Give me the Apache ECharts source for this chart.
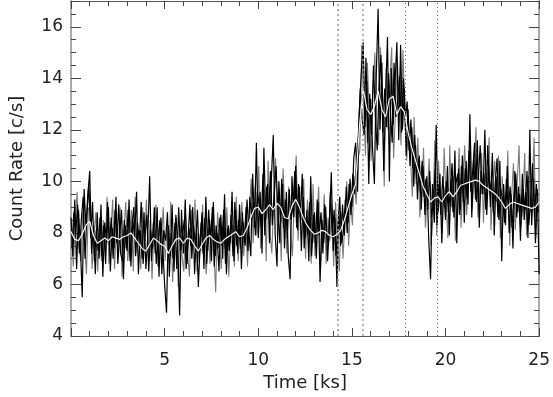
<!DOCTYPE html>
<html>
<head>
<meta charset="utf-8">
<script src="https://cdn.jsdelivr.net/npm/echarts@6/dist/echarts.min.js"></script>
<style>html,body{margin:0;padding:0;background:#fff}#c{width:553px;height:397px}</style>
</head>
<body>
<div id="c"></div>
<script>
// Light curve A, 0.1 ks bins starting at t = 0
var rateStep = 0.1;
var rateA = [
  8.6, 7.1, 9.3, 6.6, 8.9, 7.5, 5.5, 9.7, 8.2, 9.5,
  10.4, 7.2, 8.3, 6.4, 8.8, 7.0, 9.1, 6.3, 8.4, 7.6,
  9.0, 6.5, 8.2, 7.4, 9.4, 6.8, 7.9, 8.9, 6.2, 8.3,
  7.3, 9.3, 6.7, 8.5, 7.8, 9.6, 6.4, 8.1, 7.0, 8.8,
  6.6, 7.9, 10.2, 6.9, 8.4, 7.2, 9.0, 6.3, 8.6, 7.4,
  6.0, 4.9, 8.3, 7.1, 9.1, 6.5, 8.7, 7.6, 4.8, 8.9,
  7.2, 9.3, 6.8, 8.2, 7.5, 9.0, 6.4, 8.1, 5.9, 7.7,
  8.8, 6.6, 9.4, 7.3, 8.5, 6.9, 9.2, 7.1, 8.0, 6.5,
  8.7, 7.0, 9.5, 6.4, 8.3, 7.6, 9.6, 6.9, 8.9, 7.2,
  9.1, 6.6, 8.4, 7.5, 9.3, 8.0, 7.1, 10.3, 8.2, 11.5,
  7.8, 9.6, 7.2, 11.3, 8.5, 9.9, 7.6, 10.1, 11.8, 8.0,
  6.7, 10.0, 8.4, 9.9, 7.4, 9.6, 7.1, 6.2, 10.2, 8.6,
  10.6, 8.1, 9.8, 7.3, 9.4, 7.8, 8.9, 6.9, 10.2, 7.6,
  8.8, 7.0, 9.2, 6.1, 8.5, 7.6, 9.0, 6.9, 8.4, 10.35,
  7.3, 8.6, 5.9, 8.9, 7.5, 9.1, 7.9, 9.8, 8.4, 10.1,
  9.0, 10.9, 11.5, 9.6, 12.8, 14.2, 15.4, 12.1, 13.9, 9.9,
  13.2, 11.3, 9.9, 14.1, 16.7, 12.0, 14.6, 10.4, 13.3, 15.6,
  10.0, 14.4, 12.2, 13.8, 15.4, 11.6, 15.3, 12.0, 13.6, 11.0,
  12.8, 10.6, 12.1, 9.8, 11.4, 9.3, 11.0, 8.9, 10.6, 8.7,
  10.2, 7.8, 6.2, 9.9, 8.4, 12.2, 8.8, 10.3, 7.6, 9.8,
  8.5, 10.6, 7.9, 10.1, 8.8, 11.2, 7.6, 10.5, 8.9, 11.0,
  8.4, 10.8, 9.1, 12.6, 8.6, 10.9, 9.3, 11.6, 8.2, 10.4,
  9.5, 12.0, 8.7, 10.6, 9.0, 11.1, 7.9, 10.2, 8.6, 10.8,
  6.9, 9.9, 8.3, 10.6, 8.0, 9.5, 7.4, 10.4, 8.6, 9.8,
  7.7, 10.3, 8.5, 9.6, 7.8, 12.0, 8.3, 10.1, 7.6, 9.7,
  6.4
];
// Light curve B, 0.1 ks bins starting at t = 0.05
var rateB = [
  7.4, 8.8, 7.9, 9.1, 7.2, 8.5, 9.4, 7.0, 8.7, 9.9,
  7.8, 9.2, 6.9, 8.1, 7.3, 8.6, 7.1, 8.3, 6.8, 9.2,
  7.5, 8.6, 7.0, 8.9, 7.6, 9.1, 7.2, 6.9, 8.5, 7.4,
  8.9, 6.9, 8.2, 9.0, 7.1, 8.4, 7.7, 9.2, 6.8, 7.9,
  8.7, 6.5, 8.1, 7.4, 9.0, 6.8, 7.7, 8.5, 6.4, 8.1,
  7.7, 8.8, 6.3, 8.0, 7.0, 8.4, 6.6, 9.0, 7.3, 7.9,
  8.5, 6.6, 7.8, 9.1, 7.0, 8.3, 7.4, 8.9, 6.9, 8.4,
  7.2, 8.6, 6.8, 8.9, 7.7, 9.0, 6.7, 8.3, 7.4, 8.6,
  7.5, 8.9, 6.8, 8.2, 7.3, 8.7, 7.1, 9.2, 7.5, 8.5,
  7.4, 8.8, 7.6, 9.0, 7.3, 9.4, 8.5, 9.2, 7.9, 9.6,
  9.1, 8.2, 10.3, 7.9, 9.8, 8.6, 10.4, 8.3, 9.5, 10.6,
  8.8, 7.6, 10.1, 8.2, 9.3, 7.8, 9.7, 8.5, 9.0, 10.4,
  8.2, 9.9, 8.6, 10.3, 7.4, 8.6, 7.9, 9.2, 7.1, 8.7,
  7.6, 9.3, 7.9, 8.8, 7.2, 9.1, 8.0, 7.5, 9.6, 7.8,
  8.9, 7.1, 8.3, 9.4, 7.6, 8.1, 9.3, 8.0, 9.9, 8.7,
  10.3, 9.5, 10.8, 11.9, 13.6, 12.4, 11.8, 14.8, 11.5, 13.4,
  11.8, 14.5, 12.6, 11.2, 13.7, 14.9, 11.9, 13.6, 12.1, 14.2,
  12.8, 11.5, 14.6, 12.5, 13.2, 14.1, 11.9, 14.0, 12.4, 13.1,
  11.2, 12.4, 10.5, 11.8, 10.1, 10.9, 9.6, 10.8, 9.4, 10.1,
  8.9, 10.4, 8.6, 9.2, 10.5, 8.3, 9.9, 8.7, 10.2, 9.0,
  10.0, 8.8, 9.6, 10.7, 8.6, 9.9, 10.3, 8.7, 10.6, 9.2,
  10.5, 9.3, 11.2, 9.6, 10.4, 11.5, 9.2, 10.1, 11.4, 9.5,
  10.3, 8.9, 11.4, 9.6, 10.0, 8.8, 9.9, 10.9, 8.5, 9.7,
  9.3, 8.4, 10.1, 8.9, 9.8, 8.2, 9.4, 10.3, 8.8, 9.5,
  8.6, 9.7, 8.9, 10.4, 8.3, 9.4, 10.7, 8.6, 9.9, 8.8
];
// Light curve C (grey), 0.1 ks bins starting at t = 0.025
var rateC = [
  7.9, 6.7, 8.4, 9.6, 7.5, 6.9, 8.8, 7.6, 6.4, 8.9,
  9.1, 6.6, 7.9, 8.8, 6.5, 8.2, 6.9, 8.5, 7.3, 9.4,
  6.8, 8.0, 9.3, 6.6, 8.4, 7.3, 9.0, 6.3, 8.1, 9.2,
  6.9, 7.7, 8.9, 6.5, 9.4, 7.2, 8.0, 6.6, 9.0, 7.5,
  9.3, 7.1, 8.5, 6.2, 7.9, 9.1, 6.7, 8.2, 7.6, 9.0,
  6.9, 8.2, 7.0, 9.2, 6.1, 7.8, 8.6, 5.9, 8.3, 7.1,
  6.5, 8.7, 7.2, 6.3, 8.9, 7.6, 9.3, 6.5, 8.0, 7.3,
  9.1, 7.3, 6.4, 8.2, 6.8, 8.5, 7.4, 5.7, 8.8, 7.8,
  6.6, 8.1, 7.4, 9.0, 6.3, 7.9, 8.3, 6.7, 9.4, 6.9,
  8.3, 9.2, 7.1, 8.6, 6.7, 8.9, 10.1, 7.6, 9.8, 7.9,
  10.6, 7.4, 8.8, 9.7, 6.9, 10.8, 8.0, 7.2, 9.4, 10.9,
  7.9, 9.3, 6.9, 10.5, 8.6, 7.2, 9.8, 8.0, 7.1, 9.5,
  11.0, 7.7, 9.1, 8.5, 10.1, 7.0, 9.3, 8.2, 6.8, 9.9,
  7.1, 8.3, 9.8, 6.6, 8.0, 9.5, 6.8, 8.6, 7.7, 9.1,
  6.7, 9.2, 7.6, 6.5, 8.8, 7.0, 8.5, 10.0, 7.5, 9.3,
  8.3, 10.2, 9.1, 10.9, 11.2, 15.3, 13.0, 11.0, 14.6, 12.6,
  10.8, 13.5, 15.0, 12.3, 11.4, 15.2, 12.8, 9.8, 14.4, 12.0,
  13.9, 15.2, 10.9, 12.7, 14.8, 13.0, 11.4, 15.1, 12.6, 10.8,
  12.3, 11.0, 9.4, 12.5, 9.9, 11.7, 8.6, 9.5, 11.3, 8.2,
  9.6, 10.9, 7.5, 8.6, 11.6, 7.9, 10.8, 9.1, 8.0, 11.3,
  9.3, 7.8, 11.4, 9.0, 10.2, 7.7, 9.5, 11.3, 8.2, 10.0,
  11.4, 8.7, 9.9, 11.8, 8.9, 10.3, 12.1, 8.6, 9.7, 11.1,
  8.4, 10.6, 9.4, 11.7, 8.1, 9.8, 10.8, 9.2, 11.0, 7.8,
  10.2, 8.7, 9.0, 11.2, 7.5, 9.4, 10.7, 8.1, 9.9, 11.4,
  8.2, 9.0, 11.1, 7.9, 10.2, 8.8, 9.6, 11.7, 7.8, 9.5
];
// Smoothed curve, 0.2 ks steps starting at t = 0
var smoothStep = 0.2;
var smooth = [
  8.05, 7.75, 7.7, 7.95, 8.3, 8.45, 7.9, 7.6, 7.7, 7.8,
  7.7, 7.85, 7.8, 7.75, 7.85, 7.9, 8.0, 7.8, 7.6, 7.4,
  7.3, 7.55, 7.8, 7.7, 7.55, 7.5, 7.2, 7.5, 7.75, 7.8,
  7.6, 7.8, 7.75, 7.5, 7.3, 7.55, 7.8, 7.9, 7.75, 7.65,
  7.6, 7.75, 7.85, 7.95, 8.05, 7.85, 7.9, 8.2, 8.6, 8.95,
  9.0, 8.75, 8.9, 9.1, 8.9, 9.15, 9.0, 8.6, 8.55, 9.05,
  9.3, 9.0, 8.6, 8.3, 8.1, 7.95, 8.0, 8.1, 8.05, 7.9,
  7.85, 7.95, 8.1, 8.5, 9.0, 9.5, 9.9, 12.1, 13.6, 12.8,
  12.6, 12.9, 13.5, 12.8, 12.5, 13.2, 13.3, 12.6, 12.9, 12.7,
  11.9, 11.3, 10.8, 10.3, 9.8, 9.5, 9.2, 9.35, 9.4, 9.2,
  9.45, 9.6, 9.4, 9.6, 9.85, 9.9, 9.95, 10.0, 10.05, 10.0,
  9.85, 9.75, 9.65, 9.55, 9.4, 9.2, 8.95, 9.1, 9.2, 9.15,
  9.1, 9.05, 9.0, 8.95, 9.0, 9.2
];
// Vertical marker times (ks)
var markersLight = [14.26, 15.57];
var markersDark = [17.87, 19.58];
var xTicks = [5, 10, 15, 20, 25];
var yTicks = [4, 6, 8, 10, 12, 14, 16];

function pairs(arr, step, start) {
  return arr.map(function (v, i) { return [+(start + i * step).toFixed(3), v]; });
}

var font = 'DejaVu Sans';
var chart = echarts.init(document.getElementById('c'), null, {renderer: 'canvas'});
function axisBase(pos, isX, show) {
  return {
    type: 'value',
    position: pos,
    min: isX ? 0 : 4,
    max: isX ? 25 : 17,
    interval: isX ? 5 : 2,
    axisLine: {show: true, onZero: false, lineStyle: {color: isX ? '#555' : '#aaa', width: isX ? 1 : 2}},
    axisTick: {show: true, inside: true, length: isX ? 8 : 10, lineStyle: {color: '#444'}},
    minorTick: {show: true, splitNumber: isX ? 5 : 4, length: 5, lineStyle: {color: '#444'}},
    splitLine: {show: false},
    axisLabel: show ? {
      show: true, fontFamily: font, fontSize: 17, color: '#222',
      margin: isX ? 16 : 8,
      formatter: function (v) {
        var list = isX ? xTicks : yTicks;
        return list.indexOf(v) >= 0 ? String(v) : '';
      }
    } : {show: false}
  };
}
var xa = axisBase('bottom', true, true);
xa.name = 'Time [ks]';
xa.nameLocation = 'middle';
xa.nameGap = 38;
xa.nameTextStyle = {fontFamily: font, fontSize: 18, color: '#222'};
var xt = axisBase('top', true, false);
var ya = axisBase('left', false, true);
ya.name = 'Count Rate [c/s]';
ya.nameLocation = 'middle';
ya.nameGap = 45;
ya.nameTextStyle = {fontFamily: font, fontSize: 18, color: '#222'};
var yr = axisBase('right', false, false);

var markData = markersLight.map(function (m) {
  return {xAxis: m, lineStyle: {color: '#999', type: [2, 3], width: 1.5}};
}).concat(markersDark.map(function (m) {
  return {xAxis: m, lineStyle: {color: '#666', type: [1, 3], width: 1}};
}));

chart.setOption({
  animation: false,
  backgroundColor: '#fff',
  grid: {left: 65, right: 10, top: 1, bottom: 59},
  xAxis: [xa, xt],
  yAxis: [ya, yr],
  series: [
    {
      type: 'line', data: [], z: 1,
      markLine: {silent: true, symbol: 'none', label: {show: false}, data: markData, animation: false}
    },
    {
      type: 'line', data: pairs(rateC, rateStep, 0.025), showSymbol: false, symbol: 'none',
      lineStyle: {color: '#7a7a7a', width: 1.1}, z: 2
    },
    {
      type: 'line', data: pairs(rateA, rateStep, 0), showSymbol: false, symbol: 'none',
      lineStyle: {color: '#000', width: 1.2}, z: 3
    },
    {
      type: 'line', data: pairs(rateB, rateStep, 0.05), showSymbol: false, symbol: 'none',
      lineStyle: {color: '#000', width: 1.2}, z: 3
    },
    {
      type: 'line', data: pairs(smooth, smoothStep, 0), showSymbol: false, symbol: 'none',
      lineStyle: {color: '#f2f2f2', width: 1.2}, z: 4
    }
  ]
});
</script>
</body>
</html>
